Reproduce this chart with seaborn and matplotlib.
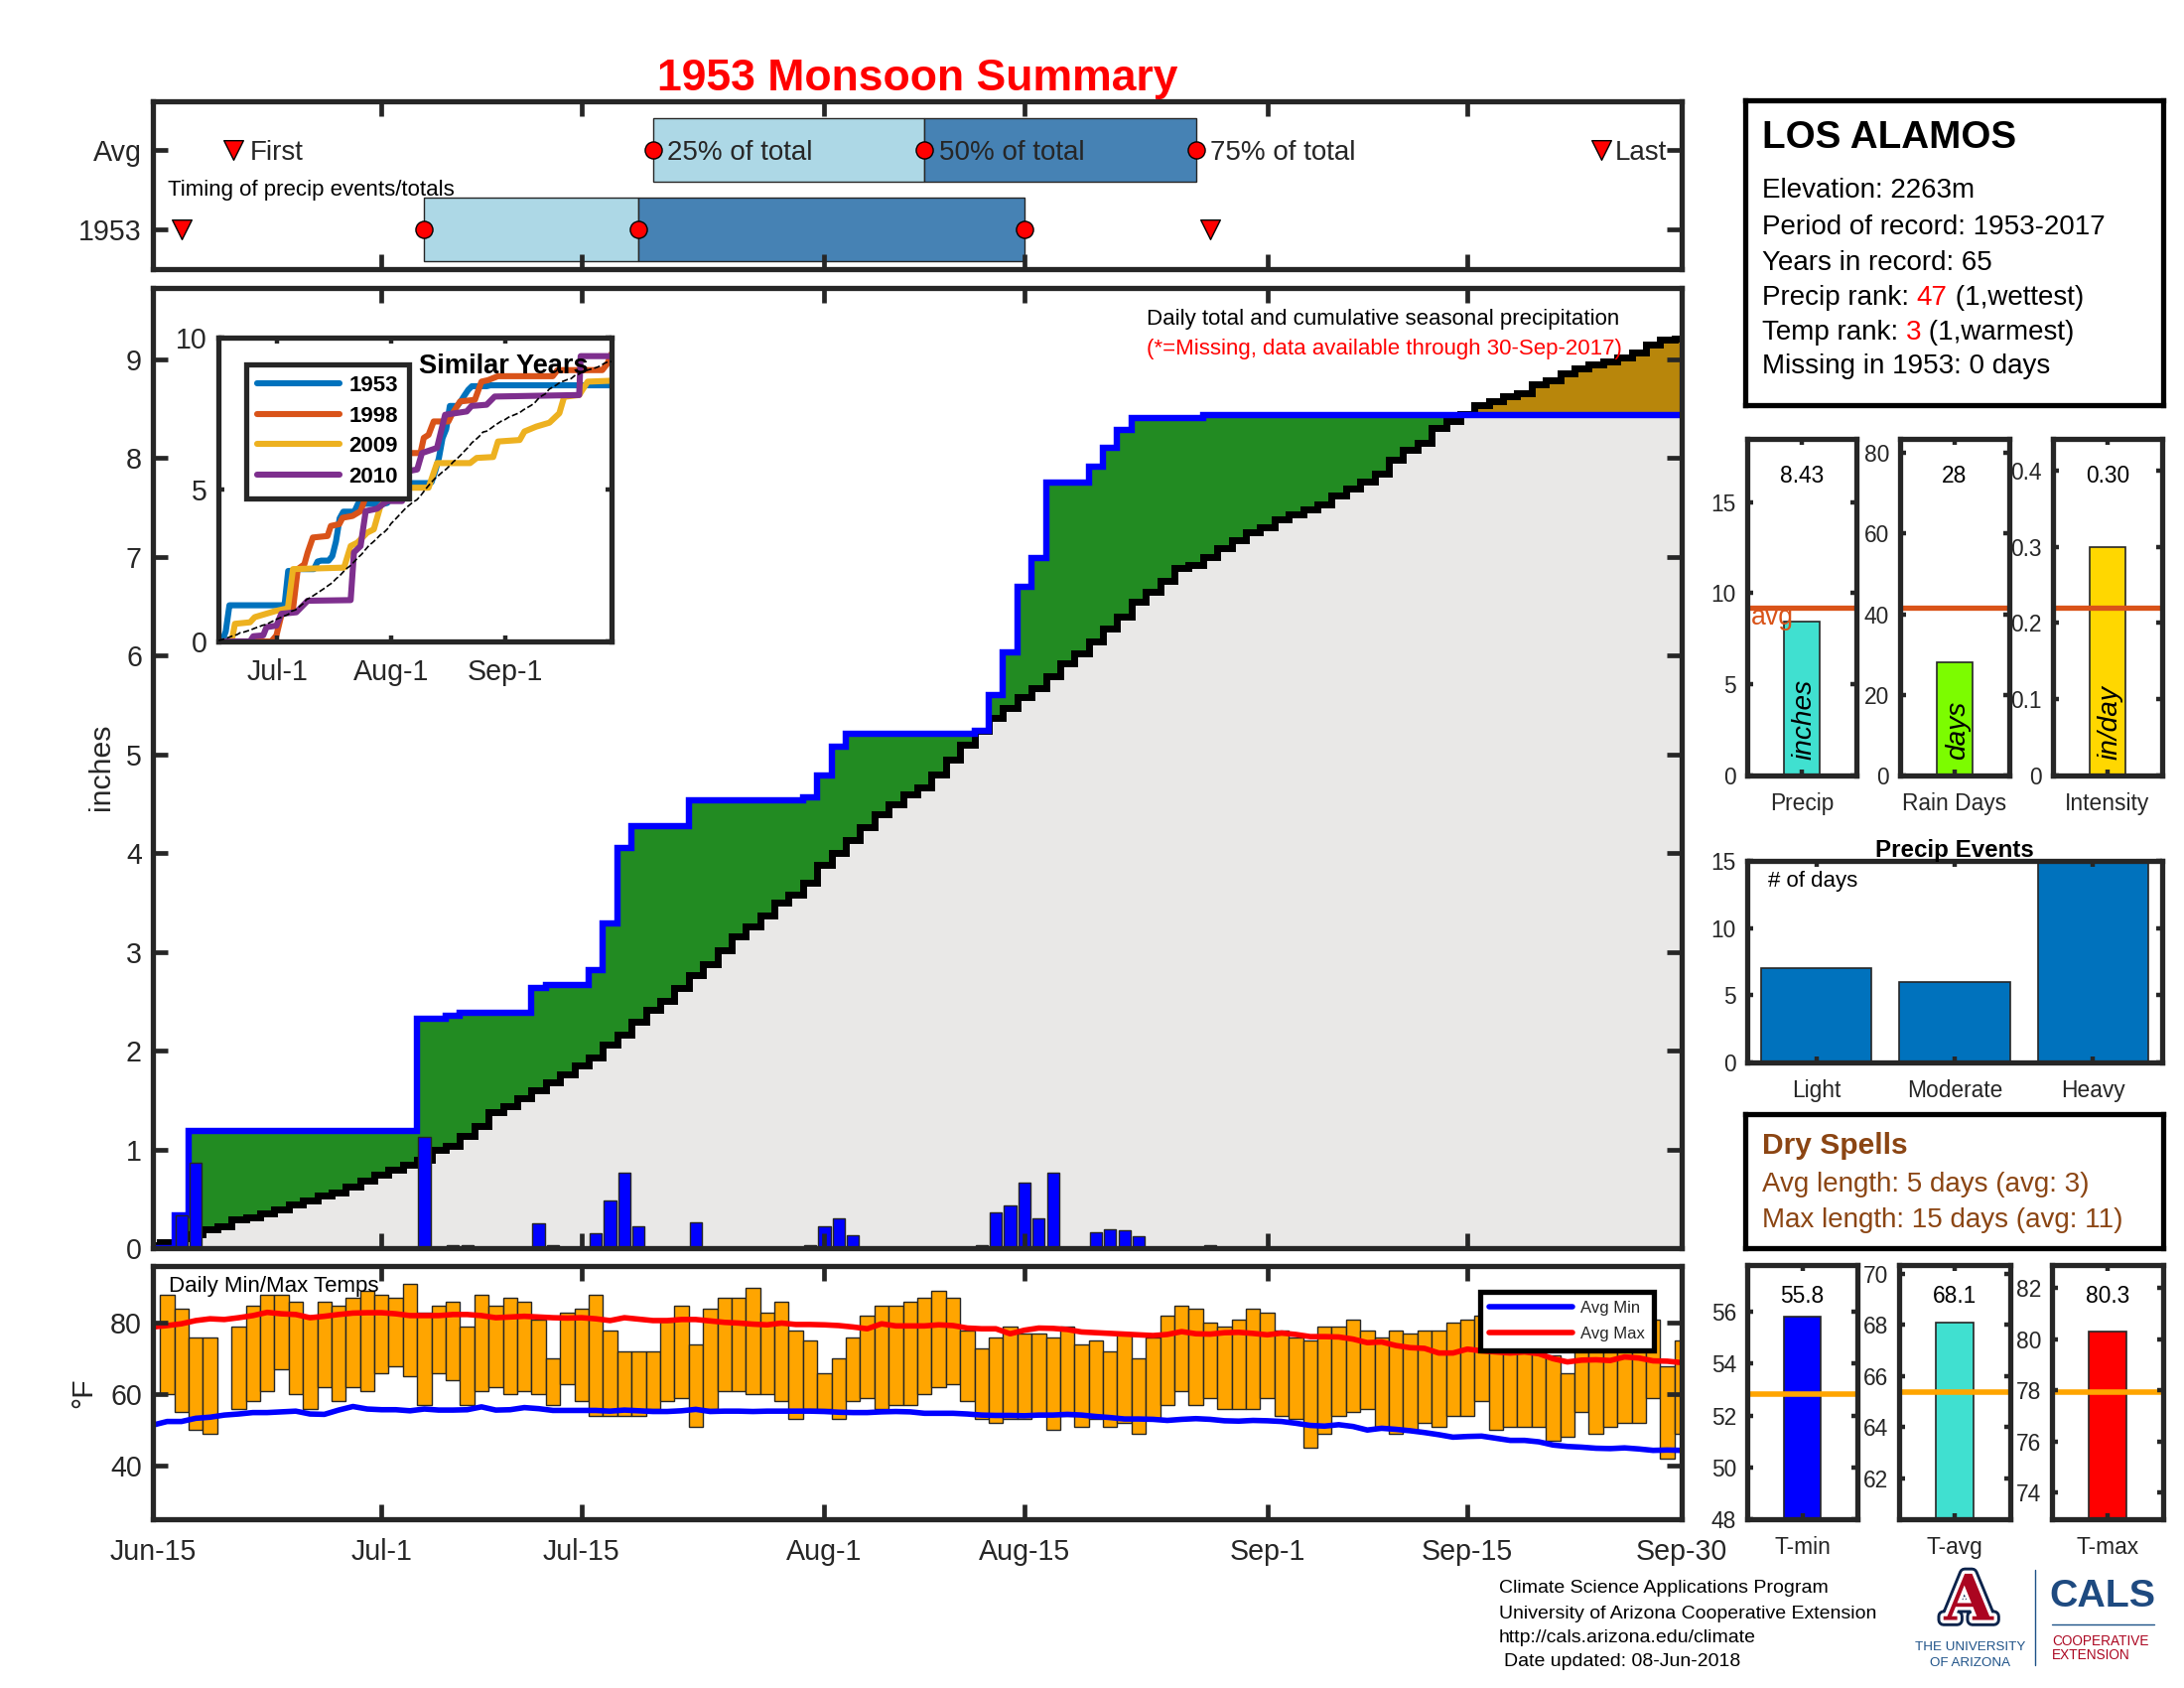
import numpy as np
import seaborn as sns
import matplotlib.pyplot as plt
import matplotlib.patheffects as pe

nan = np.nan
W, H = 2200, 1700

date_ticks = [0, 16, 30, 47, 61, 78, 92, 107]
date_labels = ['Jun-15', 'Jul-1', 'Jul-15', 'Aug-1', 'Aug-15', 'Sep-1', 'Sep-15', 'Sep-30']
days = np.arange(108)

rain_days = [2, 3, 19, 21, 22, 27, 28, 31, 32, 33, 34, 38, 46, 47, 48, 49, 58, 59, 60, 61, 62, 63, 66, 67, 68, 69, 74]
rain_vals = [.33, .86, 1.13, .03, .03, .25, .03, .15, .48, .76, .22, .26, .03, .22, .30, .13, .03, .36, .43, .66, .30,
             .76, .16, .19, .18, .12, .03]

avg_cum = [.03, .06, .1, .14, .19, .22, .29, .31, .35, .39, .44, .48, .53, .56, .62, .68, .74, .79, .84, .89,
           1.0, 1.04, 1.14, 1.24, 1.38, 1.44, 1.52, 1.6, 1.68, 1.76, 1.85, 1.93, 2.06, 2.16, 2.29, 2.41, 2.5, 2.63,
           2.76, 2.87, 3.02, 3.16, 3.26, 3.37, 3.5, 3.58, 3.7, 3.88, 4.0, 4.13, 4.26, 4.39, 4.49, 4.59, 4.66, 4.79,
           4.95, 5.1, 5.24, 5.37, 5.47, 5.58, 5.67, 5.79, 5.92, 6.02, 6.14, 6.27, 6.39, 6.54, 6.64, 6.75, 6.89, 6.92,
           7.0, 7.09, 7.17, 7.25, 7.3, 7.38, 7.43, 7.48, 7.53, 7.62, 7.69, 7.76, 7.84, 7.98, 8.08, 8.15, 8.3, 8.37,
           8.44, 8.53, 8.57, 8.62, 8.65, 8.75, 8.79, 8.86, 8.91, 8.95, 8.98, 9.02, 9.07, 9.15, 9.2, 9.21]

temp_max = [nan, 88, 84, 76, 76, nan, 79, 85, 88, 88, 86, 82, 86, 85, 87, 89, 88, 87, 91, 83, 85, 86, 79, 88, 85,
            87, 86, 81, 70, 83, 84, 88, 78, 72, 72, 72, 80.5, 85, 74, 84, 87, 87, 90, 83, 86, 78, 75, 66, 70, 76,
            82, 85, 85, 86, 87, 89, 87, 78, 73, 76, 79, 77, 77, 76, 79, 74, 75, 72, 77, 70, 76, 82, 85, 84, 80,
            79, 81, 84, 83, 78, 76, 75, 79, 79, 81, 78, 76, 78, 77, 78, 78, 80, 81, 82, 80, 79, 78, 80, 71, 66,
            72.5, 80, 80, 82, 80, 81, 68, 75]
temp_min = [nan, 60, 55, 50, 49, nan, 56, 58, 61, 67, 60, 56, 62, 58, 62, 61, 66, 68, 65, 57, 66, 64, 57, 61, 62,
            60, 61, 60, 57, 63, 58, 54, 54, 54, 54, 56, 58, 59, 51, 56, 61, 61, 60, 60, 58, 53, 56, 56, 53, 58,
            59, 56, 57, 57, 60, 62, 63, 58, 53, 52, 53, 53, 54, 50, 54, 51, 53, 51, 52, 49, 53, 57, 61, 57, 59,
            56, 56, 56, 59, 54, 53, 45, 49, 54, 55, 56, 51, 49, 50, 52, 51, 54, 54, 58, 50, 51, 51, 51, 47, 48,
            55, 49, 51, 52, 52, 59, 42, 49]
avg_max = [78.9, 79.3, 79.8, 80.7, 81.2, 81, 81.5, 82.1, 83, 82.6, 82.4, 81.5, 81.9, 82.4, 82.8, 82.9, 82.9, 82.6,
           82.1, 82.1, 82.1, 82.4, 82.4, 82.1, 81.5, 81.7, 81.9, 81.7, 81.5, 81.4, 81.5, 81.2, 80.7, 81.5, 81.1,
           80.7, 80.7, 81, 81, 80.6, 80.2, 80, 79.7, 79.5, 80, 79.6, 79.6, 79.5, 79.3, 78.9, 78.4, 79.8, 79.2, 79.2,
           79.2, 79.5, 79.3, 78.6, 78.4, 78.4, 77, 78, 78.6, 78.5, 78.2, 77.5, 77.3, 77.1, 76.9, 76.7, 76.5, 76.8,
           77.6, 77, 76.9, 77.3, 77.4, 77.1, 76.7, 77.2, 76.8, 76.2, 76.2, 76.1, 75.5, 74.5, 74.7, 73.7, 73.1, 72.9,
           71.6, 71.6, 72.7, 72.2, 71.9, 71.6, 71.9, 71.4, 70, 69.1, 69.6, 69.7, 69.5, 70.5, 70.2, 69.4, 69.3, 68.9]
avg_min = [51.4, 52.4, 52.4, 53.3, 53.6, 54.2, 54.5, 54.9, 54.9, 55.1, 55.3, 54.5, 54.4, 55.6, 56.6, 55.9, 55.7, 55.7,
           55.4, 55.9, 55.6, 55.6, 55.7, 56.5, 55.6, 55.7, 56.3, 56, 55.5, 55.5, 55.5, 55.5, 55.3, 55.6, 55.4, 55.2,
           55.2, 55.4, 55.8, 55.2, 55.3, 55.3, 55.2, 55.3, 55.3, 55.3, 55.3, 55.2, 55, 54.9, 54.9, 55.1, 55.2, 55.1,
           54.7, 54.7, 54.7, 54.5, 54.2, 54.1, 54.1, 54, 54.2, 54.2, 54.4, 54.2, 53.8, 53.5, 53.1, 53.1, 53, 52.7,
           53, 53.2, 53, 52.6, 52.5, 52.7, 52.6, 52.4, 51.9, 51.3, 51.1, 51.5, 51, 50, 50.5, 50.2, 49.8, 49.3, 48.7,
           48, 48.2, 48.3, 47.7, 47.1, 47.1, 46.7, 45.8, 45.4, 45.2, 44.9, 44.8, 45, 44.7, 44.3, 44.4, 44.3]

# first, 25%, 50%, 75%, last
timing_avg = [5.6, 35, 54, 73, 101.4]
timing_year = [2, 19, 34, 61, 74]

d1998 = [0, 14.4, 15.8, 17.1, 18.5, 20.3, 21.6, 23.4, 24.3, 25.7, 29.7, 30.6, 32.9, 33.8, 36.5, 38.7, 40.5, 42.3,
         46.8, 50.5, 55, 55.9, 57.2, 58.6, 62.6, 63.5, 65.8, 69.8, 71.6, 73.4, 76.1, 91, 92.3, 104.5, 105.9, 107]
v1998 = [0, 0, .2, .85, 1.07, 1.07, 2.38, 2.54, 2.93, 3.42, 3.47, 3.8, 3.86, 4.07, 4.13, 4.29, 4.89, 5.3, 6.0, 6.2,
         6.2, 6.7, 6.8, 7.24, 7.24, 7.46, 7.9, 7.95, 8.55, 8.6, 8.73, 8.73, 8.93, 8.93, 9.15, 9.47]
d2009 = [0, 3.6, 4.5, 8.6, 9.9, 15.8, 18.9, 20.3, 34.2, 36, 37.8, 40.5, 42.3, 44.1, 47.3, 50.5, 57.2, 59.5, 68.5, 70.3,
         74.8, 76.1, 82, 83.3, 86.5, 90.1, 92.8, 94.1, 98.2, 100.5, 107]
v2009 = [0, 0, .58, .63, .8, 1.01, 1.09, 2.38, 2.43, 3.14, 3.25, 3.58, 3.69, 4.45, 4.84, 5.06, 5.06, 5.87, 5.87, 6.04,
         6.07, 6.58, 6.63, 6.91, 7.07, 7.2, 7.51, 8.05, 8.11, 8.55, 8.58]
d2010 = [0, 8.6, 9.5, 12.2, 13.1, 15.8, 17.1, 21.2, 24.3, 36, 36.9, 38.7, 40.1, 43.2, 45.9, 50, 51.4, 54.1, 55.4, 59.5,
         61.7, 67.6, 68.9, 73, 75.2, 98.2, 98.6, 107]
v2010 = [0, 0, .17, .2, .47, .52, .91, .96, 1.34, 1.36, 2.93, 3.14, 4.29, 4.37, 4.62, 4.62, 5.6, 5.66, 6.2, 6.37, 7.46,
         7.57, 7.75, 7.79, 8.06, 8.11, 9.39, 9.39]

sns.set_theme(style='ticks')
plt.rcParams['font.family'] = ['Liberation Sans', 'DejaVu Sans']
dark = '#262626'
fig = plt.figure(figsize=(11, 8.5), dpi=200, facecolor='white')


def add_ax(l, t, r, b):
    ax = fig.add_axes([l / W, 1 - b / H, (r - l) / W, (b - t) / H])
    for s in ax.spines.values():
        s.set_linewidth(1.9)
        s.set_color(dark)
    return ax


def big_ticks(ax):
    ax.set_axisbelow(False)
    ax.tick_params(direction='in', top=True, bottom=True, left=True, right=True, length=5.5, width=1.7, labelsize=10.3,
                   color=dark, labelcolor=dark, pad=4)


def small_ticks(ax):
    ax.set_axisbelow(False)
    ax.tick_params(direction='in', top=True, bottom=True, left=True, right=True, length=2, width=1.6, labelsize=8.2,
                   color=dark, labelcolor=dark, pad=4)
    ax.tick_params(axis='x', pad=6.2)


def put(x, y, s, **kw):
    kw.setdefault('va', 'center')
    kw.setdefault('color', 'black')
    if kw['va'] == 'center' and kw.get('rotation', 0) == 0:
        y = y + 3
    return fig.text(x / W, 1 - y / H, s, **kw)


# title
put(924, 76, '1953 Monsoon Summary', fontsize=16, fontweight='bold', color='red', ha='center')

# timing strip
ax = add_ax(154, 102, 1694, 271)
ax.barh(2, timing_avg[2] - timing_avg[1], left=timing_avg[1], height=.8, color='#ADD8E6', edgecolor=dark, lw=.5)
ax.barh(2, timing_avg[3] - timing_avg[2], left=timing_avg[2], height=.8, color='#4682B4', edgecolor=dark, lw=.5)
ax.barh(1, timing_year[2] - timing_year[1], left=timing_year[1], height=.8, color='#ADD8E6', edgecolor=dark, lw=.5)
ax.barh(1, timing_year[3] - timing_year[2], left=timing_year[2], height=.8, color='#4682B4', edgecolor=dark, lw=.5)
for row, vals in ((2, timing_avg), (1, timing_year)):
    sns.scatterplot(x=vals[1:4], y=[row] * 3, marker='o', s=38, color='red', edgecolor='black', linewidth=.5, ax=ax,
                    zorder=3)
    sns.scatterplot(x=[vals[0], vals[4]], y=[row] * 2, marker='v', s=50, color='red', edgecolor='black', linewidth=.5,
                    ax=ax, zorder=3)
ax.set_xlim(0, 107)
ax.set_ylim(.5, 2.61)
ax.set_xticks(date_ticks[1:-1])
ax.set_xticklabels([])
ax.set_yticks([1, 2])
ax.set_yticklabels(['1953', 'Avg'])
big_ticks(ax)
for x, s in ((252, 'First'), (672, '25% of total'), (946, '50% of total'), (1219, '75% of total'), (1627, 'Last')):
    put(x, 151, s, fontsize=10, color=dark)
put(169, 188, 'Timing of precip events/totals', fontsize=8)

# main cumulative panel
actual = np.zeros(108)
actual[rain_days] = rain_vals
actual = np.cumsum(actual)
avg_arr = np.array(avg_cum)

ax = add_ax(154, 290, 1694, 1257)
ax.fill_between(days, 0, np.minimum(avg_arr, actual), step='mid', color='#E9E8E7', lw=0, zorder=1)
ax.fill_between(days, np.minimum(avg_arr, actual), actual, step='mid', color='#228B22', lw=0, zorder=1)
ax.fill_between(days, actual, np.maximum(avg_arr, actual), step='mid', color='#B8860B', lw=0, zorder=1)
sns.lineplot(x=days, y=avg_arr, drawstyle='steps-mid', color='black', lw=2.5, estimator=None, ax=ax, zorder=2,
             solid_joinstyle='miter')
sns.lineplot(x=days, y=actual, drawstyle='steps-mid', color='#0000FF', lw=2.3, estimator=None, ax=ax, zorder=2.1,
             solid_joinstyle='miter')
sns.barplot(x=rain_days, y=rain_vals, native_scale=True, width=.85, color='#0000FF', saturation=1, edgecolor=dark,
            linewidth=.5, errorbar=None, ax=ax, zorder=2.2)
ax.set_xlim(0, 107)
ax.set_ylim(0, 9.72)
ax.set_xticks(date_ticks[1:-1])
ax.set_xticklabels([])
ax.set_yticks(range(10))
big_ticks(ax)
ax.set_xlabel('')
ax.set_ylabel('')
put(102, 772, 'inches', fontsize=10.9, color=dark, rotation=90, ha='center')
put(1155, 319, 'Daily total and cumulative seasonal precipitation', fontsize=8)
put(1155, 349, '(*=Missing, data available through 30-Sep-2017)', fontsize=8, color='red')

# similar years inset
ax = add_ax(220, 340, 616, 646)
sns.lineplot(x=days, y=avg_arr, color='black', lw=.6, ls='--', estimator=None, ax=ax, zorder=3)
sns.lineplot(x=days, y=actual, color='#0072BD', lw=2.2, estimator=None, ax=ax, label='1953')
sns.lineplot(x=d1998, y=v1998, color='#D95319', lw=2.2, estimator=None, ax=ax, label='1998')
sns.lineplot(x=d2009, y=v2009, color='#EDB120', lw=2.2, estimator=None, ax=ax, label='2009')
sns.lineplot(x=d2010, y=v2010, color='#7E2F8E', lw=2.2, estimator=None, ax=ax, label='2010')
ax.set_xlim(0, 107)
ax.set_ylim(0, 10)
ax.set_xticks([16, 47, 78])
ax.set_xticklabels(['Jul-1', 'Aug-1', 'Sep-1'])
ax.set_yticks([0, 5, 10])
ax.set_axisbelow(False)
ax.tick_params(direction='in', top=True, bottom=True, left=True, right=True, length=2, width=1.6, labelsize=10.3,
               color=dark, labelcolor=dark, pad=4)
ax.tick_params(axis='x', pad=6)
ax.set_xlabel('')
ax.set_ylabel('')
leg = ax.legend(loc='upper left', bbox_to_anchor=(28 / 396, 1 - 27 / 306), borderaxespad=0, frameon=True, framealpha=1,
                fancybox=False, edgecolor=dark, prop={'size': 8, 'weight': 'bold'}, handlelength=3.75,
                handletextpad=.4, labelspacing=.43, borderpad=.5, labelcolor='black')
leg.get_frame().set_linewidth(1.9)
ax.text(.51, .905, 'Similar Years', transform=ax.transAxes, fontsize=9.8, fontweight='bold', color='black', va='center',
        zorder=6)

# daily temps
ax = add_ax(154, 1275, 1694, 1530)
t_lo = np.array(temp_min)
t_hi = np.array(temp_max)
ax.bar(days, t_hi - t_lo, bottom=t_lo, width=1, color='#FFA500', edgecolor=dark, lw=.5, zorder=1)
sns.lineplot(x=days, y=avg_min, color='#0000FF', lw=2, estimator=None, ax=ax, zorder=2, label='Avg Min')
sns.lineplot(x=days, y=avg_max, color='#FF0000', lw=2, estimator=None, ax=ax, zorder=2, label='Avg Max')
ax.set_xlim(0, 107)
ax.set_ylim(25, 96)
ax.set_xticks(date_ticks)
ax.set_xticklabels(date_labels)
ax.set_yticks([40, 60, 80])
big_ticks(ax)
ax.set_xlabel('')
ax.set_ylabel('')
ax.tick_params(axis='x', pad=7)
leg = ax.legend(loc='upper left', bbox_to_anchor=((1491 - 154) / 1540, 1 - (1301 - 1275) / 255), borderaxespad=0,
                frameon=True, framealpha=1, fancybox=False, edgecolor='black', prop={'size': 6}, handlelength=5,
                handletextpad=.5, labelspacing=.65, borderpad=.55)
leg.get_frame().set_linewidth(1.9)
put(170, 1292, 'Daily Min/Max Temps', fontsize=8)
put(84, 1403, '°F', fontsize=10.9, color=dark, rotation=90, ha='center')

# info box
ax = add_ax(1758, 101, 2179, 408)
ax.set_xticks([])
ax.set_yticks([])
for s in ax.spines.values():
    s.set_color('black')
put(1775, 136, 'LOS ALAMOS', fontsize=13.9, fontweight='bold')
put(1775, 189, 'Elevation: 2263m', fontsize=10)
put(1775, 226, 'Period of record: 1953-2017', fontsize=10)
put(1775, 262, 'Years in record: 65', fontsize=10)
for y, head, rank, tail in ((297, 'Precip rank: ', '47', ' (1,wettest)'), (332, 'Temp rank: ', '3', ' (1,warmest)')):
    t1 = put(1775, y, head, fontsize=10, va='baseline')
    t1.set_y(1 - (y + 10) / H)
    t2 = ax.annotate(rank, xy=(1, 0), xycoords=t1, va='bottom', fontsize=10, color='red', annotation_clip=False)
    ax.annotate(tail, xy=(1, 0), xycoords=t2, va='bottom', fontsize=10, color='black', annotation_clip=False)
put(1775, 366, 'Missing in 1953: 0 days', fontsize=10)

# summary bars
summary = [((1760, 1870), 'Precip', 8.43, '8.43', 9.2, 18.47, [0, 5, 10, 15], ['0', '5', '10', '15'], '#40E0D0', 'inches'),
           ((1914, 2024), 'Rain Days', 28, '28', 41.6, 83.5, [0, 20, 40, 60, 80], ['0', '20', '40', '60', '80'],
            '#7CFC00', 'days'),
           ((2068, 2178), 'Intensity', .3, '0.30', .22, .4415, [0, .1, .2, .3, .4], ['0', '0.1', '0.2', '0.3', '0.4'],
            '#FFD700', 'in/day')]
for (l, r), name, val, lab, avg, top, yt, ytl, col, unit in summary:
    ax = add_ax(l, 442, r, 781)
    sns.barplot(x=[name], y=[val], width=1 / 3, color=col, saturation=1, edgecolor=dark, linewidth=.6, errorbar=None,
                ax=ax)
    ax.axhline(avg, color='#D95319', lw=1.9, zorder=2.2)
    ax.set_xlim(-.5, .5)
    ax.set_ylim(0, top)
    ax.set_yticks(yt)
    ax.set_yticklabels(ytl)
    small_ticks(ax)
    ax.set_xlabel('')
    ax.set_ylabel('')
    put((l + r) / 2, 476, lab, fontsize=8.2, ha='center')
    put((l + r) / 2 + 3, 765, unit, fontsize=10.1, rotation=90, style='italic', ha='center', va='bottom')
put(1785, 619, 'avg', fontsize=9.6, color='#D95319', ha='center')

# precip events
ax = add_ax(1760, 867, 2178, 1070)
sns.barplot(x=['Light', 'Moderate', 'Heavy'], y=[7, 6, 15], width=.8, color='#0072BD', saturation=1, edgecolor=dark,
            linewidth=.6, errorbar=None, ax=ax)
ax.set_xlim(-.5, 2.5)
ax.set_ylim(0, 15)
ax.set_yticks([0, 5, 10, 15])
small_ticks(ax)
ax.set_xlabel('')
ax.set_ylabel('')
put(1969, 853, 'Precip Events', fontsize=8.7, fontweight='bold', ha='center')
put(1781, 884, '# of days', fontsize=8)

# dry spells
ax = add_ax(1758, 1122, 2179, 1257)
ax.set_xticks([])
ax.set_yticks([])
for s in ax.spines.values():
    s.set_color('black')
put(1775, 1151, 'Dry Spells', fontsize=10.8, fontweight='bold', color='#8B4513')
put(1775, 1190, 'Avg length: 5 days (avg: 3)', fontsize=10, color='#8B4513')
put(1775, 1226, 'Max length: 15 days (avg: 11)', fontsize=10, color='#8B4513')

# temp bars
temps = [((1760, 1871), 'T-min', 55.8, 52.84, (48, 57.8), [48, 50, 52, 54, 56], '#0000FF'),
         ((1913, 2025), 'T-avg', 68.1, 65.38, (60.4, 70.35), [62, 64, 66, 68, 70], '#40E0D0'),
         ((2067, 2179), 'T-max', 80.3, 77.93, (72.97, 82.9), [74, 76, 78, 80, 82], '#FF0000')]
for (l, r), name, val, avg, lims, yt, col in temps:
    ax = add_ax(l, 1274, r, 1530)
    sns.barplot(x=[name], y=[val], width=1 / 3, color=col, saturation=1, edgecolor=dark, linewidth=.6, errorbar=None,
                ax=ax)
    ax.axhline(avg, color='#FFA500', lw=2, zorder=2.2)
    ax.set_xlim(-.5, .5)
    ax.set_ylim(*lims)
    ax.set_yticks(yt)
    small_ticks(ax)
    ax.set_xlabel('')
    ax.set_ylabel('')
    put((l + r) / 2, 1302, '%.1f' % val, fontsize=8.2, ha='center')

# credits
put(1510, 1597, 'Climate Science Applications Program', fontsize=7)
put(1510, 1622, 'University of Arizona Cooperative Extension', fontsize=7)
put(1510, 1646, 'http://cals.arizona.edu/climate', fontsize=7)
put(1515, 1671, 'Date updated: 08-Jun-2018', fontsize=7)

# logos, as text
navy = '#0C234B'
put(1983, 1611, 'A', fontsize=23, fontweight='bold', family='DejaVu Serif', color='#AB0520', ha='center',
    path_effects=[pe.Stroke(linewidth=4.5, foreground=navy), pe.Stroke(linewidth=2.4, foreground='white'), pe.Normal()])
put(1985, 1656, 'THE UNIVERSITY', fontsize=4.8, color='#1E5288', ha='center')
put(1985, 1672, 'OF ARIZONA', fontsize=4.8, color='#1E5288', ha='center')
fig.add_artist(plt.Line2D([2050 / W, 2050 / W], [1 - 1581 / H, 1 - 1677 / H], color='#1E5288', lw=.5))
fig.add_artist(plt.Line2D([2067 / W, 2170 / W], [1 - 1636 / H, 1 - 1636 / H], color='#1E5288', lw=.5))
put(2118, 1605, 'CALS', fontsize=14.2, fontweight='bold', color='#1E4A80', ha='center')
put(2067, 1650, 'COOPERATIVE', fontsize=4.9, color='#AB0520')
put(2067, 1664, 'EXTENSION', fontsize=4.9, color='#AB0520')

plt.savefig('out.png', dpi=200)
